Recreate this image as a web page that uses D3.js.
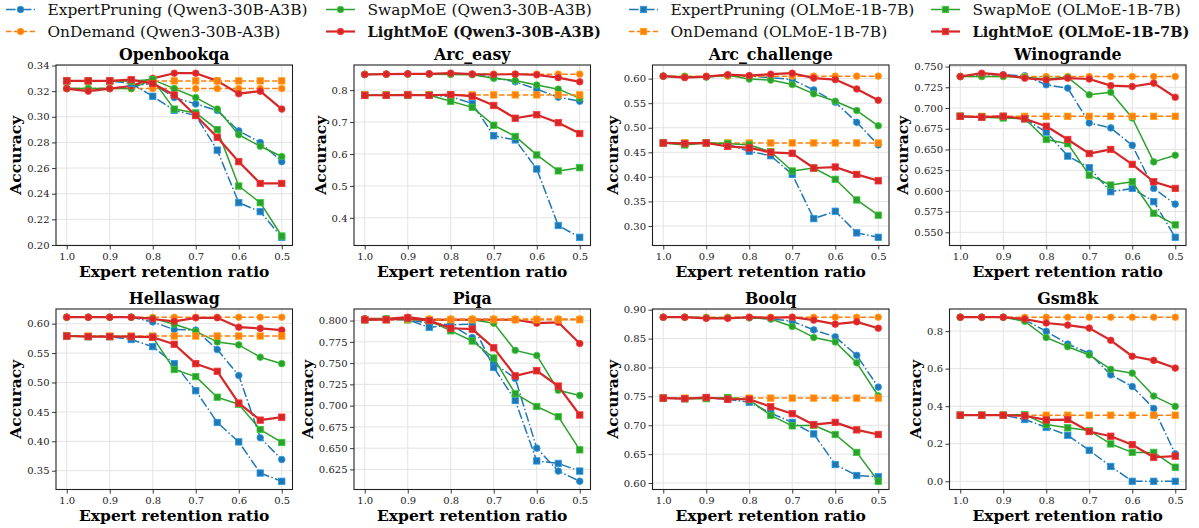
<!DOCTYPE html>
<html lang='en'>
<head>
<meta charset='UTF-8'>
<title>Accuracy vs expert retention ratio</title>
<script src='https://d3js.org/d3.v7.min.js'></script>
<style>
  body { margin: 0; background: #fff; }
  svg { font-family: 'DejaVu Serif', serif; display: block; }
</style>
</head>
<body>
<svg width='1199' height='528'></svg>
<script>
const ratios = [1.0, 0.95, 0.9, 0.85, 0.8, 0.75, 0.7, 0.65, 0.6, 0.55, 0.5]
const xTicks = [1.0, 0.9, 0.8, 0.7, 0.6, 0.5]
const methods = ['ExpertPruning', 'OnDemand', 'SwapMoE', 'LightMoE']
const models = ['Qwen3-30B-A3B', 'OLMoE-1B-7B']
const tasks = ['Openbookqa', 'Arc_easy', 'Arc_challenge', 'Winogrande', 'Hellaswag', 'Piqa', 'Boolq', 'Gsm8k']

// each block: ExpertPruning, OnDemand, SwapMoE, LightMoE
const openbookqaQwen = [
  [0.322, 0.322, 0.322, 0.324, 0.326, 0.315, 0.310, 0.305, 0.289, 0.280, 0.265],
  [0.322, 0.322, 0.322, 0.322, 0.322, 0.322, 0.322, 0.322, 0.322, 0.322, 0.322],
  [0.322, 0.322, 0.322, 0.322, 0.329, 0.322, 0.315, 0.306, 0.286, 0.277, 0.269],
  [0.322, 0.320, 0.322, 0.324, 0.330, 0.334, 0.334, 0.328, 0.318, 0.320, 0.306]
]
const openbookqaOlmoe = [
  [0.328, 0.328, 0.328, 0.326, 0.316, 0.305, 0.301, 0.274, 0.233, 0.226, 0.206],
  [0.328, 0.328, 0.328, 0.328, 0.328, 0.328, 0.328, 0.328, 0.328, 0.328, 0.328],
  [0.328, 0.328, 0.328, 0.328, 0.329, 0.306, 0.303, 0.290, 0.246, 0.233, 0.207],
  [0.328, 0.328, 0.328, 0.329, 0.326, 0.317, 0.301, 0.284, 0.265, 0.248, 0.248]
]
const arcEasyQwen = [
  [0.849, 0.850, 0.851, 0.851, 0.852, 0.850, 0.839, 0.826, 0.803, 0.778, 0.765],
  [0.850, 0.850, 0.850, 0.850, 0.850, 0.850, 0.850, 0.850, 0.850, 0.850, 0.850],
  [0.849, 0.850, 0.850, 0.850, 0.849, 0.848, 0.837, 0.830, 0.816, 0.803, 0.775],
  [0.849, 0.850, 0.851, 0.851, 0.853, 0.850, 0.849, 0.850, 0.848, 0.839, 0.826]
]
const arcEasyOlmoe = [
  [0.784, 0.784, 0.785, 0.784, 0.780, 0.758, 0.657, 0.644, 0.553, 0.376, 0.339],
  [0.785, 0.785, 0.785, 0.785, 0.785, 0.785, 0.785, 0.785, 0.785, 0.785, 0.785],
  [0.784, 0.784, 0.784, 0.784, 0.765, 0.746, 0.690, 0.655, 0.597, 0.547, 0.557],
  [0.784, 0.784, 0.785, 0.784, 0.786, 0.781, 0.752, 0.712, 0.723, 0.698, 0.664]
]
const arcChallengeQwen = [
  [0.605, 0.603, 0.604, 0.607, 0.605, 0.602, 0.598, 0.577, 0.552, 0.511, 0.465],
  [0.605, 0.605, 0.605, 0.605, 0.605, 0.605, 0.605, 0.605, 0.605, 0.605, 0.605],
  [0.605, 0.604, 0.603, 0.607, 0.599, 0.597, 0.588, 0.569, 0.554, 0.535, 0.504],
  [0.605, 0.602, 0.604, 0.608, 0.606, 0.609, 0.611, 0.601, 0.598, 0.579, 0.556]
]
const arcChallengeOlmoe = [
  [0.469, 0.468, 0.469, 0.466, 0.452, 0.443, 0.405, 0.315, 0.330, 0.286, 0.277],
  [0.469, 0.469, 0.469, 0.469, 0.469, 0.469, 0.469, 0.469, 0.469, 0.469, 0.469],
  [0.469, 0.465, 0.469, 0.468, 0.465, 0.451, 0.412, 0.418, 0.395, 0.353, 0.322],
  [0.469, 0.468, 0.469, 0.462, 0.459, 0.450, 0.448, 0.418, 0.420, 0.405, 0.392]
]
const winograndeQwen = [
  [0.738, 0.740, 0.740, 0.739, 0.728, 0.724, 0.682, 0.676, 0.655, 0.603, 0.584],
  [0.738, 0.738, 0.738, 0.738, 0.738, 0.738, 0.738, 0.738, 0.738, 0.738, 0.738],
  [0.738, 0.738, 0.738, 0.737, 0.735, 0.737, 0.716, 0.719, 0.688, 0.635, 0.643],
  [0.738, 0.742, 0.740, 0.736, 0.734, 0.736, 0.735, 0.727, 0.726, 0.730, 0.713]
]
const winograndeOlmoe = [
  [0.690, 0.689, 0.690, 0.687, 0.671, 0.642, 0.628, 0.599, 0.603, 0.587, 0.544],
  [0.690, 0.690, 0.690, 0.690, 0.690, 0.690, 0.690, 0.690, 0.690, 0.690, 0.690],
  [0.690, 0.689, 0.688, 0.687, 0.662, 0.657, 0.619, 0.607, 0.611, 0.573, 0.559],
  [0.690, 0.689, 0.690, 0.687, 0.678, 0.662, 0.645, 0.650, 0.632, 0.611, 0.603]
]
const hellaswagQwen = [
  [0.611, 0.611, 0.611, 0.611, 0.603, 0.590, 0.589, 0.556, 0.512, 0.406, 0.369],
  [0.611, 0.611, 0.611, 0.611, 0.611, 0.611, 0.611, 0.611, 0.611, 0.611, 0.611],
  [0.611, 0.611, 0.611, 0.611, 0.609, 0.599, 0.587, 0.569, 0.564, 0.543, 0.532],
  [0.611, 0.611, 0.611, 0.611, 0.608, 0.604, 0.610, 0.610, 0.594, 0.592, 0.589]
]
const hellaswagOlmoe = [
  [0.579, 0.578, 0.578, 0.573, 0.561, 0.532, 0.486, 0.432, 0.399, 0.346, 0.332],
  [0.579, 0.579, 0.579, 0.579, 0.579, 0.579, 0.579, 0.579, 0.579, 0.579, 0.579],
  [0.579, 0.578, 0.578, 0.578, 0.577, 0.522, 0.510, 0.475, 0.463, 0.420, 0.398],
  [0.579, 0.578, 0.578, 0.578, 0.577, 0.565, 0.532, 0.519, 0.465, 0.436, 0.441]
]
const piqaQwen = [
  [0.802, 0.802, 0.801, 0.797, 0.795, 0.780, 0.750, 0.732, 0.650, 0.623, 0.611],
  [0.802, 0.802, 0.802, 0.802, 0.802, 0.802, 0.802, 0.802, 0.802, 0.802, 0.802],
  [0.802, 0.802, 0.802, 0.801, 0.801, 0.801, 0.797, 0.765, 0.759, 0.718, 0.712],
  [0.802, 0.802, 0.804, 0.801, 0.801, 0.801, 0.801, 0.801, 0.797, 0.798, 0.773]
]
const piqaOlmoe = [
  [0.801, 0.801, 0.801, 0.792, 0.795, 0.796, 0.745, 0.706, 0.635, 0.632, 0.623],
  [0.801, 0.801, 0.801, 0.801, 0.801, 0.801, 0.801, 0.801, 0.801, 0.801, 0.801],
  [0.801, 0.802, 0.802, 0.800, 0.788, 0.776, 0.756, 0.714, 0.699, 0.687, 0.648],
  [0.801, 0.801, 0.803, 0.800, 0.791, 0.790, 0.768, 0.735, 0.741, 0.723, 0.689]
]
const boolqQwen = [
  [0.887, 0.887, 0.886, 0.886, 0.886, 0.884, 0.880, 0.865, 0.853, 0.821, 0.766],
  [0.887, 0.887, 0.887, 0.887, 0.887, 0.887, 0.887, 0.887, 0.887, 0.887, 0.887],
  [0.887, 0.887, 0.886, 0.886, 0.886, 0.884, 0.871, 0.852, 0.844, 0.808, 0.751],
  [0.887, 0.887, 0.885, 0.885, 0.887, 0.886, 0.887, 0.882, 0.875, 0.879, 0.868]
]
const boolqOlmoe = [
  [0.747, 0.746, 0.748, 0.745, 0.740, 0.721, 0.705, 0.685, 0.632, 0.613, 0.611],
  [0.747, 0.747, 0.747, 0.747, 0.747, 0.747, 0.747, 0.747, 0.747, 0.747, 0.747],
  [0.747, 0.746, 0.746, 0.748, 0.744, 0.717, 0.699, 0.700, 0.684, 0.653, 0.603],
  [0.747, 0.746, 0.748, 0.745, 0.745, 0.732, 0.720, 0.701, 0.705, 0.692, 0.684]
]
const gsm8kQwen = [
  [0.874, 0.874, 0.874, 0.860, 0.799, 0.731, 0.682, 0.567, 0.505, 0.388, 0.146],
  [0.874, 0.874, 0.874, 0.874, 0.874, 0.874, 0.874, 0.874, 0.874, 0.874, 0.874],
  [0.874, 0.874, 0.874, 0.852, 0.766, 0.717, 0.673, 0.596, 0.576, 0.454, 0.399],
  [0.874, 0.874, 0.874, 0.864, 0.843, 0.832, 0.816, 0.751, 0.666, 0.644, 0.603]
]
const gsm8kOlmoe = [
  [0.352, 0.352, 0.352, 0.329, 0.288, 0.245, 0.165, 0.079, 0.000, 0.000, 0.000],
  [0.352, 0.352, 0.352, 0.352, 0.352, 0.352, 0.352, 0.352, 0.352, 0.352, 0.352],
  [0.352, 0.352, 0.352, 0.355, 0.302, 0.285, 0.270, 0.199, 0.154, 0.154, 0.075],
  [0.352, 0.352, 0.352, 0.349, 0.327, 0.329, 0.265, 0.240, 0.195, 0.128, 0.134]
]

const openbookqaTicks = [0.20, 0.22, 0.24, 0.26, 0.28, 0.30, 0.32, 0.34]
const arcEasyTicks = [0.4, 0.5, 0.6, 0.7, 0.8]
const arcChallengeTicks = [0.30, 0.35, 0.40, 0.45, 0.50, 0.55, 0.60]
const winograndeTicks = [0.550, 0.575, 0.600, 0.625, 0.650, 0.675, 0.700, 0.725, 0.750]
const hellaswagTicks = [0.35, 0.40, 0.45, 0.50, 0.55, 0.60]
const piqaTicks = [0.625, 0.650, 0.675, 0.700, 0.725, 0.750, 0.775, 0.800]
const boolqTicks = [0.60, 0.65, 0.70, 0.75, 0.80, 0.85, 0.90]
const gsm8kTicks = [0.0, 0.2, 0.4, 0.6, 0.8]

const panels = [
  [openbookqaQwen, openbookqaOlmoe, openbookqaTicks],
  [arcEasyQwen, arcEasyOlmoe, arcEasyTicks],
  [arcChallengeQwen, arcChallengeOlmoe, arcChallengeTicks],
  [winograndeQwen, winograndeOlmoe, winograndeTicks],
  [hellaswagQwen, hellaswagOlmoe, hellaswagTicks],
  [piqaQwen, piqaOlmoe, piqaTicks],
  [boolqQwen, boolqOlmoe, boolqTicks],
  [gsm8kQwen, gsm8kOlmoe, gsm8kTicks]
]

// line styles per method
const colors = ['#1f77b4', '#ff7f0e', '#2ca02c', '#d62728']
const dashes = ['9.6,2.4,1.5,2.4', '5.5,2.4', null, null]
const widths = [1.5, 1.5, 1.5, 2.2]

const svg = d3.select('svg')

const lefts = [56, 354, 652.5, 949.5]
const tops = [65, 309]
const pw = 236.5, ph = 180.5

// same number of decimals for every tick label, at least one
function decimals(ticks) {
  for (let p = 1; p < 5; p++) {
    if (ticks.every(t => Math.abs(Math.round(t * 10 ** p) - t * 10 ** p) < 1e-6)) return p
  }
  return 4
}

function drawMarker(g, model, cx, cy, color) {
  const stroke = d3.color(color).brighter(0.7)
  if (model === 0) {
    g.append('circle').attr('cx', cx).attr('cy', cy).attr('r', 3.3)
      .attr('fill', color).attr('stroke', stroke).attr('stroke-width', 0.8)
  } else {
    g.append('rect').attr('x', cx - 3.2).attr('y', cy - 3.2).attr('width', 6.4).attr('height', 6.4)
      .attr('fill', color).attr('stroke', stroke).attr('stroke-width', 0.8)
  }
}

panels.forEach(([qwen, olmoe, ticks], i) => {
  const left = lefts[i % 4], top = tops[Math.floor(i / 4)]
  const g = svg.append('g')

  const x = d3.scaleLinear().domain([1.025, 0.475]).range([left, left + pw])
  const all = qwen.flat().concat(olmoe.flat())
  const [lo, hi] = d3.extent(all)
  const pad = (hi - lo) * 0.05
  const y = d3.scaleLinear().domain([lo - pad, hi + pad]).range([top + ph, top])

  // grid
  g.append('g').selectAll('line').data(ticks).join('line')
    .attr('x1', left).attr('x2', left + pw)
    .attr('y1', d => y(d)).attr('y2', d => y(d))
    .attr('stroke', '#e3e3e3').attr('stroke-width', 1)
  g.append('g').selectAll('line').data(xTicks).join('line')
    .attr('y1', top).attr('y2', top + ph)
    .attr('x1', d => x(d)).attr('x2', d => x(d))
    .attr('stroke', '#e3e3e3').attr('stroke-width', 1)

  const yAxis = g.append('g').attr('transform', `translate(${left},0)`)
    .call(d3.axisLeft(y).tickValues(ticks).tickFormat(d3.format(`.${decimals(ticks)}f`)).tickSize(4).tickSizeOuter(0).tickPadding(2.5))
  const xAxis = g.append('g').attr('transform', `translate(0,${top + ph})`)
    .call(d3.axisBottom(x).tickValues(xTicks).tickFormat(d3.format('.1f')).tickSize(4).tickSizeOuter(0).tickPadding(3.5))
  ;[yAxis, xAxis].forEach(a => {
    a.select('.domain').remove()
    a.selectAll('text').attr('font-family', 'DejaVu Serif').attr('font-size', 10).attr('fill', '#222')
    a.selectAll('line').attr('stroke', '#222').attr('stroke-width', 0.9)
  })

  const line = d3.line().x((d, k) => x(ratios[k])).y(d => y(d))
  ;[qwen, olmoe].forEach((set, m) => {
    set.forEach((vals, s) => {
      const sg = g.append('g')
      sg.append('path').attr('d', line(vals)).attr('fill', 'none')
        .attr('stroke', colors[s]).attr('stroke-width', widths[s])
        .attr('stroke-dasharray', dashes[s]).attr('stroke-linejoin', 'round')
      vals.forEach((v, k) => drawMarker(sg, m, x(ratios[k]), y(v), colors[s]))
    })
  })

  g.append('rect').attr('x', left).attr('y', top).attr('width', pw).attr('height', ph)
    .attr('fill', 'none').attr('stroke', '#222').attr('stroke-width', 1.1)

  g.append('text').attr('x', left + pw / 2).attr('y', top - 5)
    .attr('text-anchor', 'middle').attr('font-weight', 'bold').attr('font-size', 15.8)
    .text(tasks[i])
  g.append('text').attr('x', left + pw / 2).attr('y', top + ph + 31)
    .attr('text-anchor', 'middle').attr('font-weight', 'bold').attr('font-size', 15.5)
    .text('Expert retention ratio')

  const tickLeft = left + yAxis.node().getBBox().x
  g.append('text')
    .attr('transform', `translate(${tickLeft - 6},${top + ph / 2}) rotate(-90)`)
    .attr('text-anchor', 'middle').attr('font-weight', 'bold').attr('font-size', 15.5)
    .text('Accuracy')
})

// legend, 4 columns x 2 rows, filled column by column
const entries = []
models.forEach((md, m) => methods.forEach((me, s) => entries.push({ m, s, label: `${me} (${md})` })))
const legend = svg.append('g')
const colX = [6, 326, 629, 931]
const rowY = [9.5, 31.5]
const handleLen = 29
entries.forEach((e, k) => {
  const hx = colX[Math.floor(k / 2)], hy = rowY[k % 2]
  legend.append('line').attr('x1', hx).attr('x2', hx + handleLen).attr('y1', hy).attr('y2', hy)
    .attr('stroke', colors[e.s]).attr('stroke-width', widths[e.s]).attr('stroke-dasharray', dashes[e.s])
  drawMarker(legend, e.m, hx + handleLen / 2, hy, colors[e.s])
  legend.append('text')
    .attr('x', hx + 41.5).attr('y', hy + 5.5)
    .attr('font-size', e.s === 3 ? 14.6 : 15.4).attr('fill', '#111')
    .attr('font-weight', e.s === 3 ? 'bold' : 'normal')
    .text(e.label)
})
</script>
</body>
</html>
